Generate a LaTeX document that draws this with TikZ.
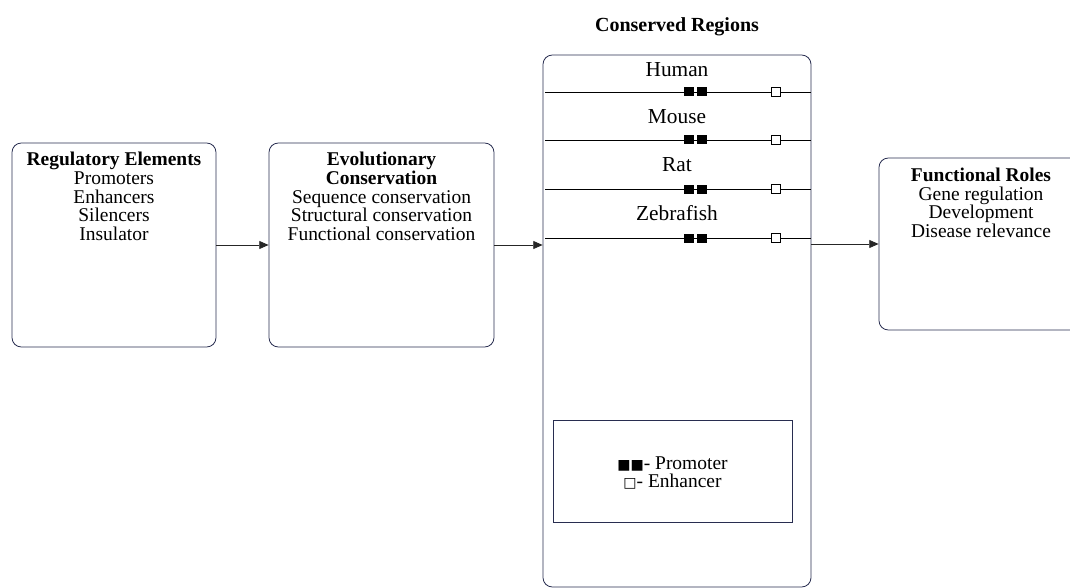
\documentclass[tikz,border=0pt]{standalone}
\usepackage{fontspec}
\setmainfont{Liberation Serif}
\newfontfamily\symfont{DejaVu Sans}
\usetikzlibrary{positioning,arrows.meta,calc}
\usepackage{xcolor}
\definecolor{boxline}{RGB}{40,45,80}
\newcommand{\glyph}[1]{{\symfont\fontsize{10.5}{12}\selectfont #1}}

\begin{document}
\begin{tikzpicture}[
  x=0.75pt, y=-0.75pt,
  box/.style={rectangle, draw=boxline, rounded corners=7pt, line width=0.6pt},
  boxtext/.style={anchor=north, align=center, inner sep=1pt, font=\fontsize{14.6}{14}\selectfont},
  legendbox/.style={rectangle, draw=boxline, line width=0.6pt},
  flow/.style={draw=black!85, line width=0.6pt, -{Triangle[length=7pt,width=6pt]}},
  species/.style={font=\fontsize{16}{14}\selectfont, inner sep=1pt},
]
  \useasboundingbox (0,0) rectangle (1070,588);

  % Boxes
  \node[box, minimum width=153pt, minimum height=153pt] (reg) at (114,245) {};
  \node[box, minimum width=168.75pt, minimum height=153pt] (evo) at (381.5,245) {};
  \node[box, minimum width=201pt, minimum height=399pt] (cons) at (677,321) {};
  \node[box, minimum width=153pt, minimum height=129pt] (func) at (981,244) {};
  \node[legendbox, minimum width=179.25pt, minimum height=76.5pt] (legend) at (672.5,471) {};

  % Box texts
  \node[boxtext, below=6pt of reg.north, anchor=north] (regtext)
    {\textbf{Regulatory Elements}\\Promoters\\Enhancers\\Silencers\\Insulator};
  \node[boxtext, below=6pt of evo.north, anchor=north] (evotext)
    {\textbf{Evolutionary}\\\textbf{Conservation}\\Sequence conservation\\Structural conservation\\Functional conservation};
  \node[boxtext, below=6.5pt of func.north, anchor=north] (functext)
    {\textbf{Functional Roles}\\Gene regulation\\Development\\Disease relevance};
  \node[boxtext, font=\fontsize{15}{16}\selectfont\bfseries, anchor=center] (constitle) at (677,27) {Conserved Regions};
  \node[boxtext, anchor=center] (legendtext) at ([yshift=-1.5pt]legend.center)
    {\glyph{■■}- Promoter\\\glyph{□}- Enhancer};

  % Species tracks
  \foreach \name/\ty/\ly in {Human/70/92, Mouse/117/140, Rat/165/189, Zebrafish/213/238} {
    \node[species] (\name) at (677,\ty) {\name};
    \draw[black, line width=0.7pt] (545,\ly) -- (811,\ly);
    \fill[black] (684,\ly-4.5) rectangle (694,\ly+4.5);
    \fill[black] (697,\ly-4.5) rectangle (707,\ly+4.5);
    \draw[black, fill=white, line width=0.5pt] (771,\ly-4.5) rectangle (780,\ly+4.5);
  }

  % Flow
  \draw[flow] (reg.east) -- (evo.west);
  \draw[flow] (evo.east) -- (evo.east -| cons.west);
  \draw[flow] (cons.east |- func.west) -- (func.west);
\end{tikzpicture}
\end{document}
